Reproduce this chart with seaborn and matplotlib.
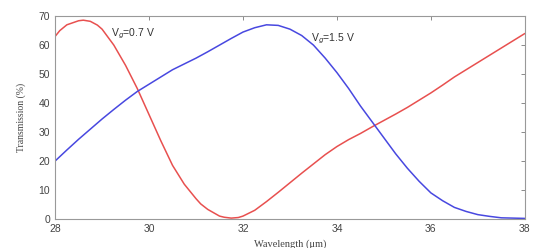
import numpy as np
import pandas as pd
import matplotlib
matplotlib.use("Agg")
import matplotlib.pyplot as plt
import seaborn as sns

# ===============================
# Data
# ===============================
wl_red = [28.0, 28.1, 28.25, 28.5, 28.6, 28.75, 28.9, 29.0, 29.25, 29.5,
          29.75, 30.0, 30.25, 30.5, 30.75, 31.0, 31.1, 31.25, 31.5, 31.6,
          31.75, 31.9, 32.0, 32.25, 32.5, 32.75, 33.0, 33.25, 33.5, 33.75,
          34.0, 34.25, 34.5, 34.75, 35.0, 35.25, 35.5, 35.75, 36.0, 36.25,
          36.5, 36.75, 37.0, 37.25, 37.5, 37.75, 38.0]
trans_red = [63.0, 65.0, 67.0, 68.4, 68.6, 68.2, 66.9, 65.5, 60.0, 53.0,
             45.0, 36.0, 27.0, 18.5, 12.0, 7.0, 5.2, 3.3, 1.0, 0.6,
             0.3, 0.5, 1.0, 3.0, 6.0, 9.2, 12.5, 15.8, 19.0, 22.2,
             25.0, 27.4, 29.5, 31.8, 34.0, 36.2, 38.5, 41.0, 43.5, 46.2,
             49.0, 51.5, 54.0, 56.5, 59.0, 61.5, 64.0]

wl_blue = [28.0, 28.25, 28.5, 28.75, 29.0, 29.25, 29.5, 29.75, 30.0, 30.25,
           30.5, 30.75, 31.0, 31.25, 31.5, 31.75, 32.0, 32.25, 32.5, 32.75,
           33.0, 33.25, 33.5, 33.75, 34.0, 34.25, 34.5, 34.75, 35.0, 35.25,
           35.5, 35.75, 36.0, 36.25, 36.5, 36.75, 37.0, 37.25, 37.5, 37.75,
           38.0]
trans_blue = [20.0, 23.8, 27.5, 31.0, 34.5, 37.8, 41.0, 44.0, 46.5, 49.0,
              51.5, 53.5, 55.5, 57.7, 60.0, 62.3, 64.5, 66.0, 67.0, 66.8,
              65.5, 63.3, 60.0, 55.5, 50.5, 45.0, 39.0, 33.5, 28.0, 22.5,
              17.5, 13.0, 9.0, 6.3, 4.0, 2.6, 1.5, 0.9, 0.4, 0.3, 0.2]

xticks = [28, 30, 32, 34, 36, 38]
yticks = [0, 10, 20, 30, 40, 50, 60, 70]

df = pd.concat([
    pd.DataFrame({"wl": wl_red, "T": trans_red, "Vg": "0.7 V"}),
    pd.DataFrame({"wl": wl_blue, "T": trans_blue, "Vg": "1.5 V"}),
])

# ===============================
# Plot
# ===============================
sns.set_style("white")
plt.rcParams["font.family"] = ["Liberation Sans", "DejaVu Sans"]

fig = plt.figure(figsize=(5.35, 2.48), dpi=100)
ax = fig.add_axes([0.103, 0.117, 0.878, 0.818])

sns.lineplot(data=df, x="wl", y="T", hue="Vg",
             palette={"0.7 V": "#e8504f", "1.5 V": "#4848e0"},
             linewidth=1.1, legend=False, ax=ax, sort=True)

ax.set_xlim(28, 38)
ax.set_ylim(0, 70)
ax.set_xticks(xticks)
ax.set_yticks(yticks)
ax.tick_params(direction="in", length=3, width=0.6, colors="#777777",
               labelcolor="#444444", labelsize=7.5, top=True, right=True)
for s in ax.spines.values():
    s.set_color("#999999")
    s.set_linewidth(0.8)

ax.set_xlabel("Wavelength (\u03bcm)", family="Liberation Serif",
              fontsize=7.5, color="#444444", labelpad=4)
ax.set_ylabel("Transmission (%)", family="Liberation Serif",
              fontsize=7, color="#444444", labelpad=9)

ax.text(29.2, 63.0, "V$_g$=0.7 V", fontsize=7.5, color="#333333")
ax.text(33.45, 61.5, "V$_g$=1.5 V", fontsize=7.5, color="#333333")

plt.savefig("out.png", dpi=100)
plt.close()
